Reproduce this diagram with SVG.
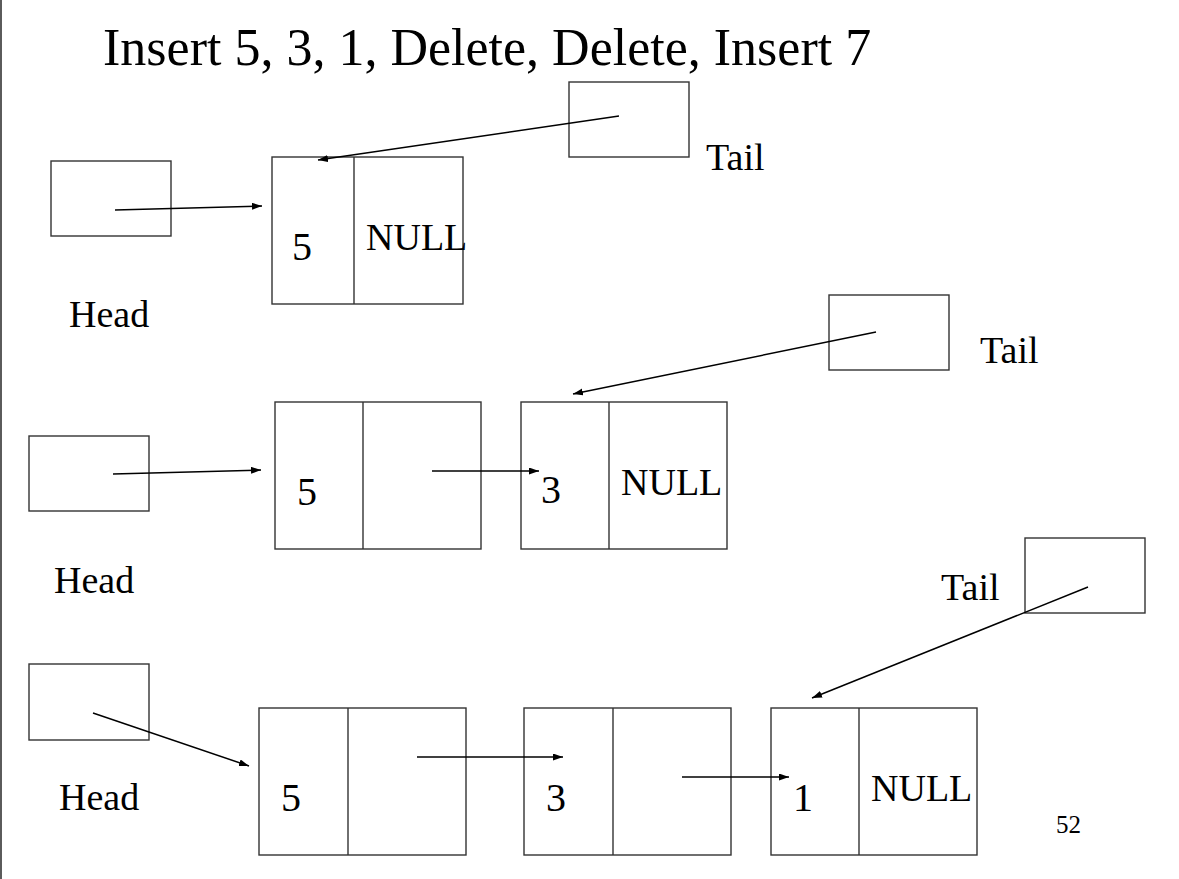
<svg xmlns="http://www.w3.org/2000/svg" width="1179" height="879" viewBox="0 0 1179 879">
<style>
.box{fill:#fff;stroke:#333;stroke-width:1.4}
.div{stroke:#333;stroke-width:1.4}
.t{font-family:"Liberation Serif","Times New Roman",serif;fill:#000}
.lbl{font-size:38px}
.num{font-size:40px}
.title{font-size:52px}
.pg{font-size:25px}
.arr{stroke:#000;stroke-width:1.5;fill:none;marker-end:url(#ah)}
</style>
<defs>
<marker id="ah" markerUnits="userSpaceOnUse" markerWidth="11" markerHeight="8" refX="10" refY="3.5" orient="auto">
<path d="M0,0 L10,3.5 L0,7 z" fill="#000"/>
</marker>
</defs>
<rect width="1179" height="879" fill="#fff"/>
<line x1="1" y1="0" x2="1" y2="879" stroke="#333" stroke-width="1.6"/>
<text class="t title" x="103" y="65">Insert 5, 3, 1, Delete, Delete, Insert 7</text>

<!-- Row 1 -->
<g id="head1"><rect class="box" x="51" y="161" width="120" height="75"/><text class="t lbl" x="69" y="327">Head</text></g>
<g id="tail1"><rect class="box" x="569" y="82" width="120" height="75"/><text class="t lbl" x="706" y="170">Tail</text></g>
<g id="r1n1"><rect class="box" x="272" y="157" width="191" height="147"/><line class="div" x1="354" y1="157" x2="354" y2="304"/><text class="t num" x="292" y="260">5</text><text class="t lbl" x="366" y="250">NULL</text></g>

<!-- Row 2 -->
<g id="head2"><rect class="box" x="29" y="436" width="120" height="75"/><text class="t lbl" x="54" y="593">Head</text></g>
<g id="tail2"><rect class="box" x="829" y="295" width="120" height="75"/><text class="t lbl" x="980" y="363">Tail</text></g>
<g id="r2n1"><rect class="box" x="275" y="402" width="206" height="147"/><line class="div" x1="363" y1="402" x2="363" y2="549"/><text class="t num" x="297" y="505">5</text></g>
<g id="r2n2"><rect class="box" x="521" y="402" width="206" height="147"/><line class="div" x1="609" y1="402" x2="609" y2="549"/><text class="t num" x="541" y="503">3</text><text class="t lbl" x="621" y="495">NULL</text></g>

<!-- Row 3 -->
<g id="head3"><rect class="box" x="29" y="664" width="120" height="76"/><text class="t lbl" x="59" y="810">Head</text></g>
<g id="tail3"><rect class="box" x="1025" y="538" width="120" height="75"/><text class="t lbl" x="941" y="600">Tail</text></g>
<g id="r3n1"><rect class="box" x="259" y="708" width="207" height="147"/><line class="div" x1="348" y1="708" x2="348" y2="855"/><text class="t num" x="281" y="811">5</text></g>
<g id="r3n2"><rect class="box" x="524" y="708" width="207" height="147"/><line class="div" x1="613" y1="708" x2="613" y2="855"/><text class="t num" x="546" y="811">3</text></g>
<g id="r3n3"><rect class="box" x="771" y="708" width="206" height="147"/><line class="div" x1="859" y1="708" x2="859" y2="855"/><text class="t num" x="793" y="811">1</text><text class="t lbl" x="871" y="801">NULL</text></g>

<text class="t pg" x="1056" y="833">52</text>

<g id="connectors">
<line class="arr" x1="115" y1="210" x2="262" y2="206"/>
<line class="arr" x1="619" y1="116" x2="318" y2="160"/>
<line class="arr" x1="113" y1="474" x2="261" y2="470"/>
<line class="arr" x1="432" y1="471" x2="539" y2="471"/>
<line class="arr" x1="876" y1="332" x2="573" y2="394"/>
<line class="arr" x1="93" y1="713" x2="249" y2="766"/>
<line class="arr" x1="417" y1="757" x2="563" y2="757"/>
<line class="arr" x1="682" y1="777" x2="789" y2="777"/>
<line class="arr" x1="1088" y1="587" x2="812" y2="698"/>
</g>
</svg>
